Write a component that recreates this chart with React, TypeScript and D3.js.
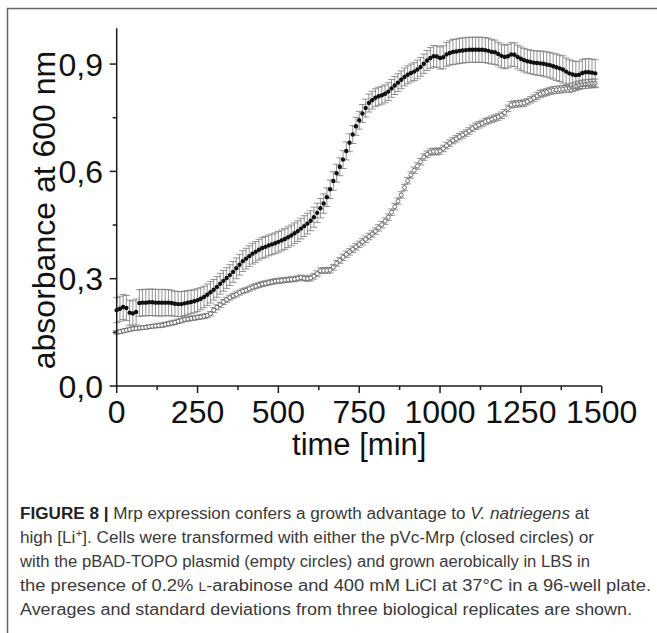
import React from "react";
import * as d3 from "d3";

const TIME = [
  0,10,20,30,40,50,60,70,80,90,
  100,110,120,130,140,150,160,170,180,190,
  200,210,220,230,240,250,260,270,280,290,
  300,310,320,330,340,350,360,370,380,390,
  400,410,420,430,440,450,460,470,480,490,
  500,510,520,530,540,550,560,570,580,590,
  600,610,620,630,640,650,660,670,680,690,
  700,710,720,730,740,750,760,770,780,790,
  800,810,820,830,840,850,860,870,880,890,
  900,910,920,930,940,950,960,970,980,990,
  1000,1010,1020,1030,1040,1050,1060,1070,1080,1090,
  1100,1110,1120,1130,1140,1150,1160,1170,1180,1190,
  1200,1210,1220,1230,1240,1250,1260,1270,1280,1290,
  1300,1310,1320,1330,1340,1350,1360,1370,1380,1390,
  1400,1410,1420,1430,1440,1450,1460,1470,1480
];

// pVc-Mrp (closed circles)
const MRP = [
  0.212,0.216,0.221,0.218,0.205,0.203,0.207,0.232,0.233,0.233,
  0.234,0.234,0.233,0.233,0.233,0.233,0.233,0.232,0.230,0.229,
  0.229,0.231,0.233,0.235,0.237,0.240,0.244,0.249,0.255,0.262,
  0.269,0.277,0.286,0.294,0.302,0.310,0.319,0.329,0.339,0.349,
  0.356,0.363,0.370,0.375,0.381,0.386,0.389,0.393,0.396,0.399,
  0.403,0.407,0.411,0.416,0.421,0.427,0.433,0.440,0.447,0.454,
  0.462,0.472,0.484,0.497,0.510,0.528,0.550,0.573,0.595,0.613,
  0.633,0.657,0.680,0.703,0.726,0.743,0.762,0.777,0.791,0.799,
  0.806,0.810,0.813,0.817,0.823,0.832,0.840,0.848,0.856,0.864,
  0.870,0.875,0.879,0.885,0.892,0.901,0.910,0.917,0.922,0.921,
  0.917,0.919,0.927,0.931,0.934,0.935,0.937,0.938,0.939,0.940,
  0.940,0.940,0.940,0.940,0.939,0.937,0.934,0.933,0.928,0.923,
  0.920,0.922,0.927,0.926,0.920,0.915,0.911,0.908,0.906,0.904,
  0.903,0.902,0.901,0.899,0.897,0.894,0.891,0.888,0.885,0.879,
  0.874,0.871,0.869,0.870,0.875,0.877,0.877,0.876,0.874
];
const MRP_SD = [
  0.035,0.035,0.035,0.035,0.035,0.035,0.036,0.037,0.037,0.037,
  0.037,0.037,0.037,0.037,0.037,0.037,0.036,0.036,0.035,0.035,
  0.035,0.034,0.034,0.033,0.032,0.032,0.031,0.030,0.030,0.030,
  0.029,0.029,0.029,0.029,0.029,0.029,0.029,0.029,0.029,0.029,
  0.029,0.029,0.029,0.029,0.029,0.029,0.029,0.029,0.029,0.029,
  0.029,0.029,0.029,0.029,0.029,0.029,0.029,0.029,0.029,0.029,
  0.028,0.028,0.027,0.027,0.027,0.026,0.026,0.026,0.025,0.025,
  0.025,0.025,0.025,0.025,0.025,0.025,0.025,0.025,0.025,0.025,
  0.025,0.025,0.025,0.025,0.025,0.025,0.025,0.025,0.025,0.025,
  0.025,0.025,0.025,0.026,0.026,0.027,0.028,0.029,0.030,0.030,
  0.031,0.032,0.033,0.034,0.035,0.035,0.035,0.035,0.035,0.035,
  0.035,0.035,0.035,0.035,0.035,0.035,0.034,0.034,0.033,0.033,
  0.033,0.033,0.033,0.033,0.033,0.033,0.033,0.033,0.033,0.033,
  0.034,0.034,0.035,0.035,0.036,0.036,0.037,0.037,0.038,0.038,
  0.038,0.038,0.038,0.038,0.038,0.038,0.038,0.038,0.038
];

// pBAD-TOPO (empty circles)
const TOPO = [
  0.150,0.152,0.154,0.156,0.158,0.160,0.161,0.162,0.163,0.164,
  0.166,0.167,0.168,0.169,0.170,0.172,0.174,0.176,0.178,0.181,
  0.183,0.186,0.187,0.189,0.190,0.192,0.193,0.195,0.197,0.202,
  0.212,0.220,0.227,0.235,0.241,0.247,0.252,0.256,0.261,0.265,
  0.268,0.272,0.276,0.279,0.282,0.285,0.287,0.289,0.291,0.293,
  0.294,0.295,0.296,0.297,0.298,0.299,0.301,0.303,0.301,0.300,
  0.302,0.307,0.314,0.322,0.323,0.323,0.324,0.332,0.343,0.351,
  0.360,0.368,0.375,0.382,0.389,0.396,0.403,0.410,0.418,0.425,
  0.433,0.442,0.451,0.461,0.472,0.486,0.501,0.517,0.534,0.555,
  0.574,0.590,0.603,0.615,0.627,0.640,0.648,0.654,0.656,0.655,
  0.657,0.664,0.672,0.679,0.686,0.691,0.697,0.702,0.707,0.713,
  0.720,0.726,0.730,0.734,0.739,0.742,0.746,0.749,0.752,0.757,
  0.764,0.776,0.786,0.788,0.789,0.790,0.791,0.795,0.800,0.805,
  0.811,0.816,0.819,0.822,0.825,0.827,0.828,0.829,0.830,0.832,
  0.833,0.835,0.838,0.841,0.843,0.844,0.845,0.846,0.846
];
const TOPO_SD = [
  0.005,0.005,0.005,0.005,0.005,0.005,0.005,0.005,0.005,0.005,
  0.005,0.005,0.005,0.006,0.006,0.006,0.006,0.006,0.006,0.006,
  0.006,0.006,0.006,0.006,0.006,0.006,0.006,0.006,0.006,0.006,
  0.007,0.007,0.007,0.007,0.007,0.007,0.007,0.007,0.007,0.007,
  0.007,0.007,0.007,0.007,0.007,0.007,0.007,0.007,0.007,0.007,
  0.007,0.007,0.007,0.007,0.007,0.007,0.007,0.007,0.007,0.007,
  0.008,0.008,0.008,0.008,0.008,0.008,0.008,0.008,0.008,0.008,
  0.009,0.009,0.009,0.009,0.009,0.009,0.009,0.009,0.009,0.009,
  0.009,0.009,0.009,0.009,0.009,0.009,0.009,0.009,0.009,0.009,
  0.009,0.009,0.009,0.009,0.009,0.009,0.009,0.009,0.009,0.009,
  0.009,0.009,0.009,0.009,0.009,0.009,0.009,0.009,0.009,0.009,
  0.009,0.009,0.009,0.009,0.009,0.009,0.009,0.009,0.009,0.009,
  0.009,0.009,0.009,0.009,0.009,0.009,0.009,0.009,0.009,0.009,
  0.010,0.010,0.010,0.010,0.010,0.010,0.010,0.010,0.010,0.010,
  0.012,0.012,0.012,0.012,0.012,0.012,0.012,0.012,0.012
];

const X_TICKS = [0, 250, 500, 750, 1000, 1250, 1500];
const X_MINOR = [125, 375, 625, 875, 1125, 1375];
const Y_TICKS = [0, 0.3, 0.6, 0.9];
const Y_TICK_LABELS = ["0,0", "0,3", "0,6", "0,9"];
const Y_MINOR = [0.15, 0.45, 0.75];

const X_TITLE = "time [min]";
const Y_TITLE = "absorbance at 600 nm";

export default function App() {
  const W = 657, H = 633;
  const x = d3.scaleLinear().domain([0, 1500]).range([116.7, 601.7]);
  const y = d3.scaleLinear().domain([0, 1.0]).range([386, 28.3]);
  const font = "'Liberation Sans', Arial, sans-serif";
  const axisColor = "#1a1a1a";
  const errColor = "#787878";

  const errBars = (vals: number[], sds: number[], key: string) =>
    TIME.map((t, i) => {
      const cx = x(t);
      const y1 = y(vals[i] - sds[i]);
      const y2 = y(vals[i] + sds[i]);
      return (
        <g key={key + i} stroke={errColor} strokeWidth={0.8}>
          <line x1={cx} x2={cx} y1={y1} y2={y2} />
          <line x1={cx - 3.5} x2={cx + 3.5} y1={y1} y2={y1} />
          <line x1={cx - 3.5} x2={cx + 3.5} y1={y2} y2={y2} />
        </g>
      );
    });

  const capFont = "'Liberation Sans', Arial, sans-serif";
  const capColor = "#3a3a3a";

  return (
    <svg width={W} height={H} style={{ position: "absolute", left: 0, top: 0, background: "#fff" }}>
      {/* frame */}
      <path d={`M7.5,${H + 2} V8.5 H${W + 2}`} fill="none" stroke="#666" strokeWidth={1.5} />

      {/* error bars and markers */}
      {errBars(TOPO, TOPO_SD, "te")}
      {TIME.map((t, i) => (
        <circle key={"to" + i} cx={x(t)} cy={y(TOPO[i])} r={2.0} fill="#fff" stroke="#555" strokeWidth={0.8} />
      ))}
      {errBars(MRP, MRP_SD, "me")}
      {TIME.map((t, i) => (
        <circle key={"mo" + i} cx={x(t)} cy={y(MRP[i])} r={2.2} fill="#111" />
      ))}

      {/* axes */}
      <g stroke={axisColor} strokeWidth={1.5}>
        <line x1={x(0)} x2={x(0)} y1={y(0) + 0.75} y2={y(1.0)} />
        <line x1={x(0) - 0.75} x2={x(1500)} y1={y(0)} y2={y(0)} />
        {X_TICKS.map((t) => (
          <line key={"xt" + t} x1={x(t)} x2={x(t)} y1={y(0)} y2={y(0) + 7} />
        ))}
        {X_MINOR.map((t) => (
          <line key={"xm" + t} x1={x(t)} x2={x(t)} y1={y(0)} y2={y(0) + 4} />
        ))}
        {Y_TICKS.map((v) => (
          <line key={"yt" + v} x1={x(0) - 7} x2={x(0)} y1={y(v)} y2={y(v)} />
        ))}
        {Y_MINOR.map((v) => (
          <line key={"ym" + v} x1={x(0) - 4} x2={x(0)} y1={y(v)} y2={y(v)} />
        ))}
      </g>
      <g fontFamily={font} fontSize={32} fill="#111">
        {X_TICKS.map((t) => (
          <text key={"xl" + t} x={x(t)} y={423} textAnchor="middle">{String(t)}</text>
        ))}
        {Y_TICKS.map((v, i) => (
          <text key={"yl" + v} x={103} y={y(v) + 11.5} textAnchor="end">{Y_TICK_LABELS[i]}</text>
        ))}
        <text x={(x(0) + x(1500)) / 2} y={455} textAnchor="middle" fontSize={31}>{X_TITLE}</text>
        <text transform="translate(55,210) rotate(-90)" textAnchor="middle">{Y_TITLE}</text>
      </g>

      {/* caption */}
      <g fontFamily={capFont} fontSize={16} fill={capColor}>
        <text x={20} y={519} textLength={569} lengthAdjust="spacingAndGlyphs">
          <tspan fontWeight="bold" fill="#222">FIGURE 8 | </tspan>
          <tspan>Mrp expression confers a growth advantage to </tspan>
          <tspan fontStyle="italic">V. natriegens</tspan>
          <tspan> at</tspan>
        </text>
        <text x={20} y={543} textLength={574} lengthAdjust="spacingAndGlyphs">
          <tspan>high [Li</tspan>
          <tspan fontSize={11} dy={-6}>+</tspan>
          <tspan dy={6}>]. Cells were transformed with either the pVc-Mrp (closed circles) or</tspan>
        </text>
        <text x={20} y={567} textLength={570} lengthAdjust="spacingAndGlyphs">
          with the pBAD-TOPO plasmid (empty circles) and grown aerobically in LBS in
        </text>
        <text x={20} y={591} textLength={631} lengthAdjust="spacingAndGlyphs">
          <tspan>the presence of 0.2% </tspan>
          <tspan fontSize={12}>L</tspan>
          <tspan>-arabinose and 400 mM LiCl at 37°C in a 96-well plate.</tspan>
        </text>
        <text x={20} y={615} textLength={612} lengthAdjust="spacingAndGlyphs">
          Averages and standard deviations from three biological replicates are shown.
        </text>
      </g>
    </svg>
  );
}
